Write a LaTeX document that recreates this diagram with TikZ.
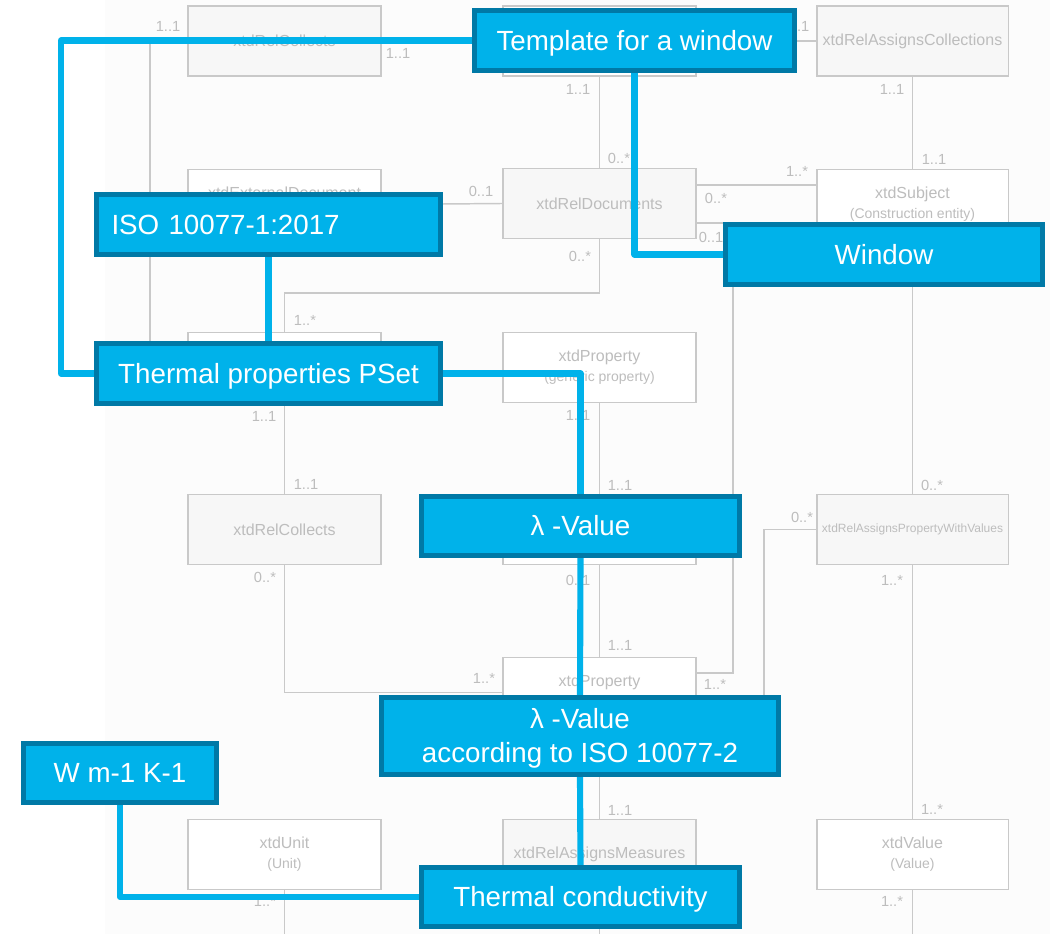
\documentclass[tikz,border=0pt]{standalone}
\usepackage{fontspec}
\setmainfont{Liberation Sans}
\usetikzlibrary{calc}
\definecolor{bluefill}{HTML}{00B2EA}
\definecolor{blueedge}{HTML}{0079A6}
\definecolor{grayline}{HTML}{C9C9C9}
\definecolor{graytext}{HTML}{BDBDBD}
\definecolor{relfill}{HTML}{F7F7F7}
\definecolor{pagetint}{HTML}{FCFCFC}
\pgfdeclarelayer{graylayer}
\pgfdeclarelayer{linklayer}
\pgfsetlayers{graylayer,linklayer,main}
\tikzset{
  umlbox/.style={draw=grayline, line width=1.1pt, fill=white, minimum width=145pt,
    minimum height=52.5pt, inner sep=0pt, text=graytext, align=center,
    font=\fontsize{12}{15}\selectfont},
  relbox/.style={umlbox, fill=relfill},
  rightcol/.style={minimum width=143.6pt},
  multlab/.style={text=graytext, inner sep=0pt, font=\fontsize{11}{13}\selectfont},
  umlline/.style={draw=grayline, line width=1.1pt},
  bluebox/.style={draw=blueedge, fill=bluefill, line width=4pt, text=white, inner sep=0pt,
    align=center, font=\fontsize{20.8}{25.5}\selectfont},
  oneline/.style={text height=14.9pt, text depth=0pt},
  blueline/.style={draw=bluefill, line width=4.6pt, line join=round},
}
\newcommand\sublab[1]{\fontsize{10.5}{15}\selectfont #1}
\begin{document}
\begin{tikzpicture}[x=0.75pt,y=-0.75pt]
\useasboundingbox (0,0) rectangle (1061,934);
\begin{pgfonlayer}{graylayer}
  \fill[white] (0,0) rectangle (1061,934);
  \fill[pagetint] (105,0) rectangle (1050,934);
  % gray UML boxes
  \node[relbox] (rc1) at (284.5,41) {xtdRelCollects};
  \node[umlbox] (m1) at (599.5,41) {};
  \node[relbox,rightcol] (rac) at (912.5,41) {xtdRelAssignsCollections};
  \node[umlbox] (ext) at (284.5,204.5) {xtdExternalDocument\\\phantom{(Document)}};
  \node[relbox] (rdoc) at (599.5,203.5) {xtdRelDocuments};
  \node[umlbox,rightcol] (subj) at (912.5,204.5) {xtdSubject\\\sublab{(Construction entity)}};
  \node[umlbox] (coll) at (284.5,367.5) {};
  \node[umlbox] (prop) at (599.5,367.5) {xtdProperty\\\sublab{(generic property)}};
  \node[relbox] (rc2) at (284.5,529.5) {xtdRelCollects};
  \node[umlbox] (m4) at (599.5,529.5) {};
  \node[relbox,rightcol,font=\fontsize{9}{11}\selectfont] (rapv) at (912.5,529.5) {xtdRelAssignsPropertyWithValues};
  \node[umlbox] (prop2) at (599.5,692.5) {xtdProperty\\\phantom{(x)}};
  \node[umlbox] (unit) at (284.5,854.5) {xtdUnit\\\sublab{(Unit)}};
  \node[relbox] (ram) at (599.5,854.5) {xtdRelAssignsMeasures};
  \node[umlbox,rightcol] (val) at (912.5,854.5) {xtdValue\\\sublab{(Value)}};
  \coordinate (bot1) at (284.5,934);
  \coordinate (bot2) at (599.5,934);
  \coordinate (bot3) at (912.5,934);
  % gray connectors
  \draw[umlline] (rc1.west) -| (150,367.5) -- (coll.west);
  \draw[umlline] (rc1.east) -- (m1.west);
  \draw[umlline] (m1.east) -- (rac.west);
  \draw[umlline] (m1.south) -- (rdoc.north);
  \draw[umlline] (rac.south) -- (subj.north);
  \draw[umlline] (ext.east) -- (rdoc.west);
  \draw[umlline] (rdoc.east |- 0,185) -- (subj.west |- 0,185);
  \draw[umlline] (rdoc.east |- 0,223) -| (733,673) -- (prop2.east |- 0,673);
  \draw[umlline] (rdoc.south) |- (coll.north |- 0,293) -- (coll.north);
  \draw[umlline] (subj.south) -- (rapv.north);
  \draw[umlline] (rapv.west) -| (764,712) -- (prop2.east |- 0,712);
  \draw[umlline] (rapv.south) -- (val.north);
  \draw[umlline] (val.south) -- (bot3);
  \draw[umlline] (prop.south) -- (m4.north);
  \draw[umlline] (m4.south) -- (prop2.north);
  \draw[umlline] (coll.south) -- (rc2.north);
  \draw[umlline] (rc2.south) |- (prop2.west);
  \draw[umlline] (prop2.south) -- (ram.north);
  \draw[umlline] (unit.south) -- (bot1);
  \draw[umlline] (ram.south) -- (bot2);
  % multiplicities
  \node[multlab] (l1) at (168,26) {1..1};
  \node[multlab] (l2) at (398,53) {1..1};
  \node[multlab] (l3) at (797,26) {1..1};
  \node[multlab] (l4) at (578,89) {1..1};
  \node[multlab] (l5) at (619,158) {0..*};
  \node[multlab] (l6) at (892,89) {1..1};
  \node[multlab] (l7) at (934,159) {1..1};
  \node[multlab] (l8) at (481,191) {0..1};
  \node[multlab] (l9) at (716,198) {0..*};
  \node[multlab] (l10) at (797,171) {1..*};
  \node[multlab] (l11) at (711,237) {0..1};
  \node[multlab] (l12) at (580,256) {0..*};
  \node[multlab] (l13) at (305,320) {1..*};
  \node[multlab] (l14) at (264,416) {1..1};
  \node[multlab] (l15) at (306,484) {1..1};
  \node[multlab] (l16) at (578,415) {1..1};
  \node[multlab] (l17) at (620,485) {1..1};
  \node[multlab] (l18) at (932,485) {0..*};
  \node[multlab] (l19) at (802,517) {0..*};
  \node[multlab] (l20) at (265,577) {0..*};
  \node[multlab] (l21) at (578,580) {0..1};
  \node[multlab] (l22) at (892,580) {1..*};
  \node[multlab] (l23) at (620,645) {1..1};
  \node[multlab] (l24) at (484,678) {1..*};
  \node[multlab] (l25) at (715,684) {1..*};
  \node[multlab] (l26) at (620,810) {1..1};
  \node[multlab] (l27) at (932,809) {1..*};
  \node[multlab] (l28) at (892,901) {1..*};
  \node[multlab] (l29) at (265,901) {1..*};
\end{pgfonlayer}
% blue overlay boxes
\node[bluebox, oneline, minimum width=239.75pt, minimum height=44.75pt] (tmpl) at (634.5,40.5) {Template for a window};
\node[bluebox, oneline, text width=235.5pt, inner xsep=11.1pt, minimum height=44.75pt, align=left] (iso) at (268.5,224.5) {ISO 10077-1:2017};
\node[bluebox, oneline, minimum width=257.75pt, minimum height=44.75pt] (pset) at (268.5,373.5) {Thermal properties PSet};
\node[bluebox, oneline, minimum width=237.5pt, minimum height=44.75pt] (win) at (884,254.5) {Window};
\node[bluebox, oneline, minimum width=238.25pt, minimum height=44pt] (lam) at (580.5,526) {λ -Value};
\node[bluebox, minimum width=297.5pt, minimum height=57.5pt] (lamiso) at (580,736) {};
\node[text=white, inner sep=0pt, align=center, font=\fontsize{20.8}{25.5}\selectfont] (lamisotext) at (580,738) {λ -Value\\according to ISO 10077-2};
\node[bluebox, oneline, minimum width=144.5pt, minimum height=44pt] (wunit) at (120,773) {W m-1 K-1};
\node[bluebox, oneline, minimum width=238.25pt, minimum height=44pt] (tc) at (580.5,897) {Thermal conductivity};
\begin{pgfonlayer}{linklayer}
  \draw[blueline] (tmpl.west) -- (tmpl.west -| 61,0) |- (pset.west);
  \draw[blueline] (tmpl.south) |- (win.west);
  \draw[blueline] (iso.south) -- (pset.north);
  \draw[blueline] (pset.east) -| (lam.north);
  \draw[blueline] (lam.south) -- (lamiso.north);
  \draw[blueline] (lamiso.south) -- (tc.north);
  \draw[blueline] (wunit.south) |- (tc.west);
\end{pgfonlayer}
\end{tikzpicture}
\end{document}
